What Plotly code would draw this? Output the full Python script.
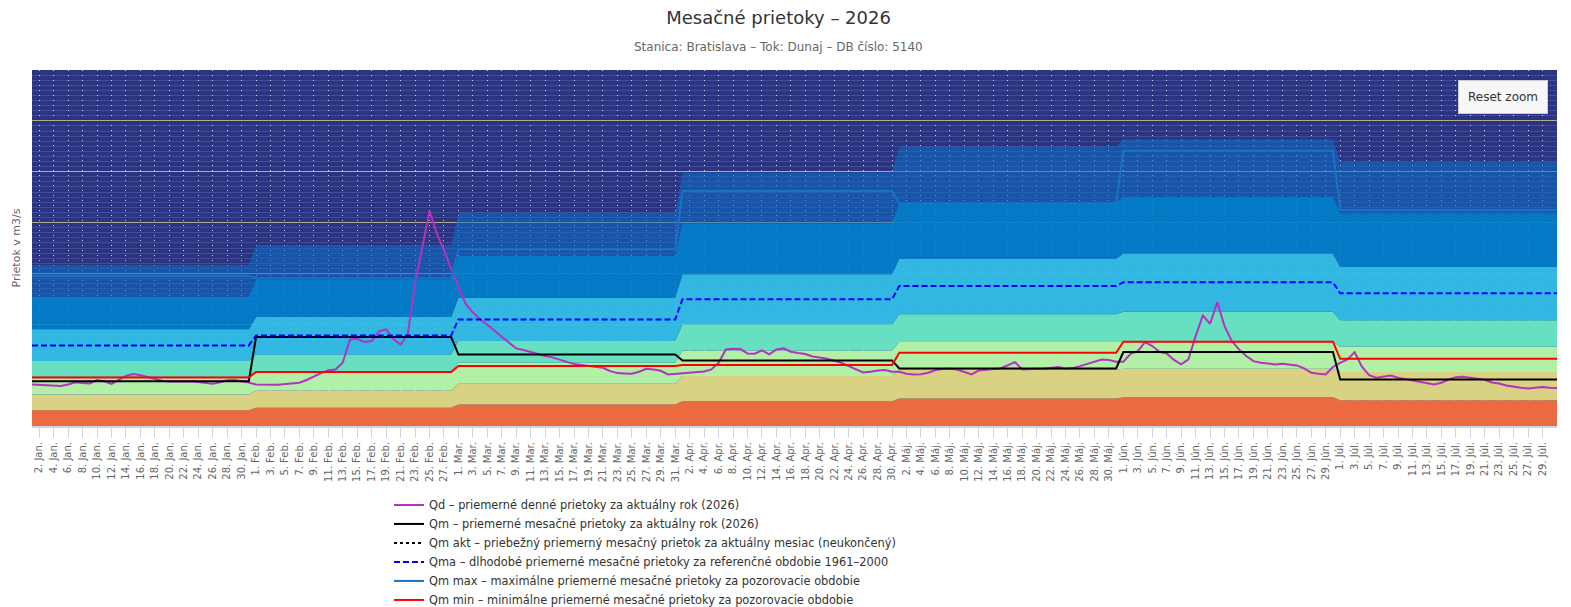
import pandas as pd
import plotly.graph_objects as go

# daily axis, 1 Jan - 31 Jul 2026
DAYS = pd.date_range("2026-01-01", "2026-07-31", freq="D")
MONTH_ABBR = ["Jan.", "Feb.", "Mar.", "Apr.", "Máj.", "Jún.", "Júl."]

# Qd - daily mean discharge (m3/s)
QD = [
    # Jan
    815, 805, 800, 795, 785, 815, 860, 845, 837, 905, 880, 830, 915, 985, 1020, 1000,
    965, 925, 890, 875, 870, 875, 882, 870, 855, 832, 860, 900, 905, 885, 855,
    # Feb
    817, 810, 810, 812, 820, 835, 850, 905, 975, 1040, 1095, 1110, 1250, 1700, 1715,
    1650, 1670, 1860, 1900, 1710, 1600, 1810, 2800, 3550, 4230, 3780, 3470, 3080,
    # Mar
    2720, 2400, 2230, 2100, 1990, 1880, 1755, 1637, 1526, 1493, 1453, 1408, 1375, 1349,
    1309, 1257, 1217, 1198, 1178, 1165, 1145, 1079, 1040, 1034, 1027, 1066, 1125, 1112,
    1086, 1014, 1027,
    # Apr
    1047, 1060, 1060, 1073, 1112, 1243, 1506, 1519, 1512, 1427, 1420, 1486, 1408, 1506,
    1526, 1460, 1434, 1414, 1368, 1349, 1322, 1283, 1243, 1178, 1112, 1053, 1066, 1092,
    1099, 1066,
    # Máj
    1066, 1027, 1014, 1020, 1047, 1099, 1119, 1125, 1112, 1060, 1014, 1092, 1112, 1119,
    1132, 1191, 1257, 1112, 1125, 1125, 1125, 1145, 1158, 1125, 1138, 1178, 1224, 1270,
    1309, 1296, 1263,
    # Jún
    1263, 1420, 1473, 1650, 1572, 1460, 1427, 1300, 1211, 1309, 1768, 2175, 2011, 2437,
    1965, 1670, 1506, 1375, 1276, 1243, 1230, 1211, 1224, 1211, 1191, 1132, 1047, 1027,
    1014, 1160,
    # Júl
    1243, 1309, 1453, 1165, 1001, 948, 968, 994, 948, 922, 902, 876, 850, 817, 850, 915,
    961, 968, 948, 935, 909, 856, 837, 797, 771, 751, 738, 745, 765, 751, 745,
]

# monthly values (Jan..Júl)
QM = [882, 1749, 1408, 1289, 1132, 1453, 915]
QMA = [1585, 1781, 2096, 2490, 2753, 2825, 2608]
QM_MAX = [2950, 2903, 3474, 4622, 4380, 5410, 4248]
QM_MIN = [955, 1060, 1178, 1198, 1440, 1657, 1322]

# background bands, upper edge of each band per month
BAND_1 = [311, 358, 423, 488, 541, 567, 508]
BAND_2 = [620, 699, 830, 981, 1110, 1126, 1060]
BAND_3 = [968, 1070, 1243, 1486, 1650, 1650, 1559]
BAND_4 = [1276, 1407, 1670, 1998, 2195, 2248, 2077]
BAND_5 = [1900, 2142, 2524, 2982, 3291, 3390, 3126]
BAND_6 = [2543, 2884, 3343, 3986, 4394, 4512, 4183]
BAND_7 = [3165, 3560, 4197, 4984, 5496, 5640, 5200]

BAND_COLORS = [
    "rgb(236,106,64)",
    "rgb(216,210,130)",
    "rgb(178,240,168)",
    "rgb(102,224,192)",
    "rgba(50,191,230,0.95)",
    "rgba(0,130,205,0.9)",
    "rgba(10,112,200,0.55)",
]


def daily(monthly):
    return [monthly[d.month - 1] for d in DAYS]


fig = go.Figure()

for k, band in enumerate([BAND_1, BAND_2, BAND_3, BAND_4, BAND_5, BAND_6, BAND_7]):
    fig.add_trace(go.Scatter(
        x=DAYS, y=daily(band), mode="lines",
        line=dict(width=0, color=BAND_COLORS[k]),
        fill="tozeroy" if k == 0 else "tonexty",
        fillcolor=BAND_COLORS[k],
        showlegend=False, hoverinfo="skip",
    ))

fig.add_trace(go.Scatter(
    x=DAYS, y=QD, mode="lines", line=dict(color="#b532c0", width=2),
    name="Qd – priemerné denné prietoky za aktuálny rok (2026)"))
fig.add_trace(go.Scatter(
    x=DAYS, y=daily(QM), mode="lines", line=dict(color="#000000", width=2),
    name="Qm – priemerné mesačné prietoky za aktuálny rok (2026)"))
fig.add_trace(go.Scatter(
    x=[None], y=[None], mode="lines", line=dict(color="#000000", width=2, dash="dot"),
    name="Qm akt – priebežný priemerný mesačný prietok za aktuálny mesiac (neukončený)"))
fig.add_trace(go.Scatter(
    x=DAYS, y=daily(QMA), mode="lines", line=dict(color="#0000ff", width=2, dash="6px,3px"),
    name="Qma – dlhodobé priemerné mesačné prietoky za referenčné obdobie 1961–2000"))
fig.add_trace(go.Scatter(
    x=DAYS, y=daily(QM_MAX), mode="lines", line=dict(color="#1a72c4", width=2),
    name="Qm max – maximálne priemerné mesačné prietoky za pozorovacie obdobie"))
fig.add_trace(go.Scatter(
    x=DAYS, y=daily(QM_MIN), mode="lines", line=dict(color="#ff0000", width=2),
    name="Qm min – minimálne priemerné mesačné prietoky za pozorovacie obdobie"))

tick_days = DAYS[1:-1:2]
tick_text = [f"{d.day}. {MONTH_ABBR[d.month - 1]}" for d in tick_days]

fig.update_layout(
    width=1563, height=599,
    margin=dict(l=24, r=14, t=62, b=180.5, autoexpand=False),
    paper_bgcolor="white",
    plot_bgcolor="rgb(43,52,128)",
    font=dict(family="DejaVu Sans", color="#333333"),
    title=dict(
        text="Mesačné prietoky – 2026",
        xref="container", yref="container",
        x=0.493, xanchor="center", y=0.9833, yanchor="middle",
        font=dict(size=18, color="#333333"),
    ),
    xaxis=dict(
        range=[DAYS[0], DAYS[-1]],
        tickvals=tick_days, ticktext=tick_text, tickangle=-90,
        tickfont=dict(size=10, color="#666666"),
        ticks="outside", ticklen=10, tickcolor="#ccd6eb",
        showline=True, linecolor="#ccd6eb", linewidth=2,
        showgrid=True, gridcolor="rgba(220,225,245,0.9)", griddash="1px,4px", gridwidth=1,
        zeroline=False,
    ),
    yaxis=dict(
        range=[0, 7000], dtick=1000, showticklabels=False,
        showgrid=True, gridcolor="rgb(178,170,148)", gridwidth=1,
        minor=dict(dtick=100, showgrid=True, gridcolor="rgba(120,130,200,0.32)", gridwidth=1),
        zeroline=False,
        title=dict(text="Prietok v m3/s", standoff=8, font=dict(size=11, color="#666666")),
    ),
    legend=dict(
        orientation="v", x=0.2341, xanchor="left", y=-0.181, yanchor="top",
        font=dict(size=11.4, color="#333333"), bgcolor="rgba(0,0,0,0)",
        traceorder="normal", tracegroupgap=0,
    ),
    showlegend=True,
    annotations=[
        dict(
            text="Stanica: Bratislava – Tok: Dunaj – DB číslo: 5140",
            xref="paper", yref="paper", x=0.4895, y=1.0645,
            xanchor="center", yanchor="middle", showarrow=False,
            font=dict(size=12, color="#666666"),
        ),
        dict(
            text="Reset zoom", xref="paper", yref="paper", x=0.9643, y=0.9229,
            xanchor="center", yanchor="middle",
            showarrow=False, font=dict(size=12, color="#333333"),
            bgcolor="#f7f7f7", bordercolor="#cccccc", borderwidth=1, borderpad=9,
        ),
    ],
)

fig.write_html("out.html")
